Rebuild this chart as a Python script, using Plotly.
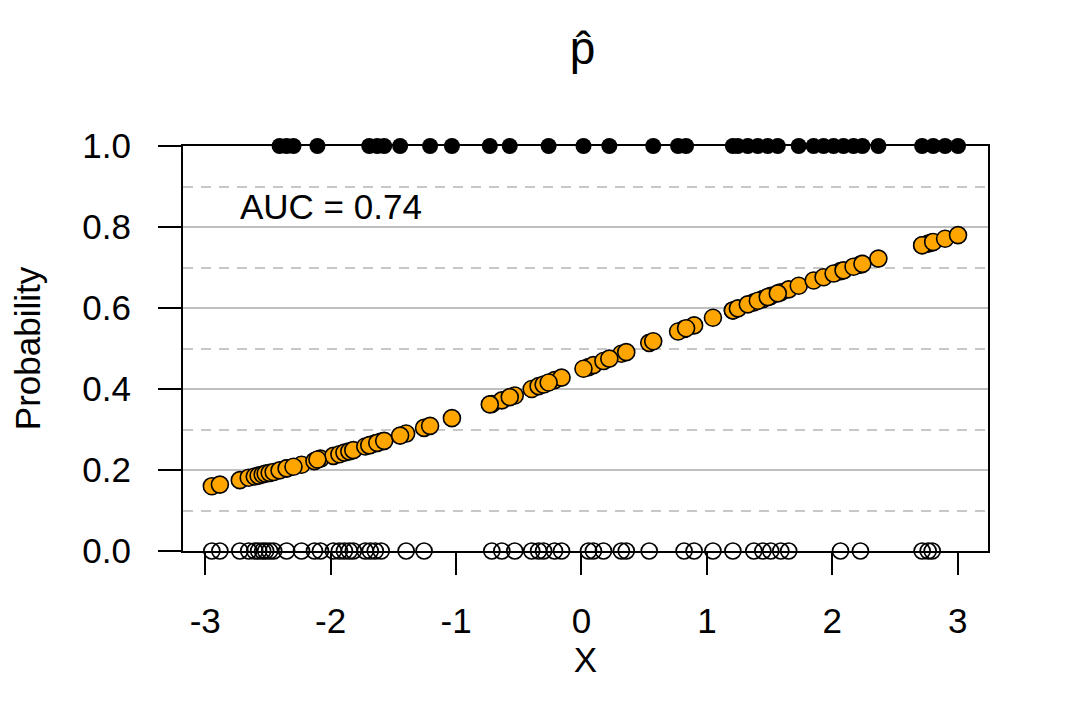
import plotly.graph_objects as go

# observed outcomes: X values where y = 0 (open circles) and y = 1 (filled dots)
x_zero = [-2.947, -2.883, -2.724, -2.653, -2.605, -2.574, -2.542, -2.518, -2.486, -2.454,
          -2.351, -2.232, -2.129, -2.081, -1.978, -1.930, -1.890, -1.851, -1.819, -1.724,
          -1.684, -1.644, -1.597, -1.398, -1.255, -0.715, -0.635, -0.532, -0.397, -0.342,
          -0.302, -0.215, -0.159, 0.056, 0.095, 0.175, 0.318, 0.357, 0.540, 0.818,
          0.898, 1.048, 1.207, 1.374, 1.446, 1.509, 1.589, 1.652, 2.065, 2.224,
          2.716, 2.764, 2.796]
x_one = [-2.407, -2.351, -2.296, -2.105, -1.692, -1.628, -1.573, -1.446, -1.207, -1.033,
         -0.731, -0.572, -0.262, 0.016, 0.222, 0.572, 0.770, 0.834, 1.207, 1.247,
         1.326, 1.406, 1.485, 1.565, 1.732, 1.851, 1.930, 2.010, 2.089, 2.169,
         2.240, 2.367, 2.716, 2.804, 2.899, 3.002]

# fitted probabilities (p-hat)
p_zero = [0.160, 0.164, 0.175, 0.181, 0.184, 0.186, 0.189, 0.191, 0.193, 0.195,
          0.204, 0.213, 0.222, 0.228, 0.235, 0.239, 0.243, 0.246, 0.249, 0.258,
          0.262, 0.266, 0.270, 0.290, 0.304, 0.363, 0.372, 0.384, 0.400, 0.407,
          0.411, 0.422, 0.428, 0.454, 0.459, 0.469, 0.487, 0.491, 0.514, 0.548,
          0.557, 0.576, 0.594, 0.614, 0.622, 0.630, 0.639, 0.646, 0.691, 0.707,
          0.755, 0.759, 0.762]
p_one = [0.199, 0.204, 0.208, 0.226, 0.261, 0.267, 0.272, 0.285, 0.309, 0.328,
         0.362, 0.380, 0.416, 0.450, 0.475, 0.518, 0.542, 0.550, 0.594, 0.599,
         0.609, 0.618, 0.627, 0.636, 0.655, 0.668, 0.676, 0.685, 0.693, 0.702,
         0.709, 0.722, 0.755, 0.763, 0.771, 0.780]

x_ticks = [-3, -2, -1, 0, 1, 2, 3]
x_ticklabels = ["-3", "-2", "-1", "0", "1", "2", "3"]
auc_label = "AUC = 0.74"

font = "Liberation Sans, Arial, sans-serif"

fig = go.Figure()
fig.add_trace(go.Scatter(x=x_zero, y=[0] * len(x_zero), mode="markers", cliponaxis=False,
                         marker=dict(size=16, color="rgba(0,0,0,0)", line=dict(color="black", width=1.7))))
fig.add_trace(go.Scatter(x=x_one, y=[1] * len(x_one), mode="markers", cliponaxis=False,
                         marker=dict(size=16, color="black", line=dict(color="black", width=0))))
fig.add_trace(go.Scatter(x=x_zero + x_one, y=p_zero + p_one, mode="markers", cliponaxis=False,
                         marker=dict(size=17, color="#FFA500", line=dict(color="black", width=1.6))))

fig.add_annotation(x=-2, y=0.85, text=auc_label, showarrow=False, xanchor="center", yanchor="middle",
                   font=dict(size=35, color="black", family=font))

fig.update_layout(
    width=1080, height=720, showlegend=False,
    paper_bgcolor="white", plot_bgcolor="white",
    font=dict(family=font, size=35, color="black"),
    margin=dict(l=172, r=100, t=138, b=177),
    title=dict(text="p\u0302", x=0.532, xanchor="center", y=0.945, yanchor="middle",
               font=dict(size=46, family=font, color="black")),
)
fig.update_xaxes(range=[-3.177, 3.241], tickvals=x_ticks, ticktext=x_ticklabels,
                 showgrid=False, zeroline=False, showline=True, mirror=True,
                 linecolor="black", linewidth=2, ticks="outside", ticklen=22, tickwidth=2,
                 tickcolor="black", ticklabelstandoff=16,
                 title=dict(text="X", standoff=0, font=dict(size=35)))
fig.update_yaxes(range=[0, 1], tickvals=[0, 0.2, 0.4, 0.6, 0.8, 1.0], tickformat=".1f",
                 showgrid=True, gridcolor="#C0C0C0", gridwidth=2, zeroline=False,
                 showline=True, mirror=True, linecolor="black", linewidth=2,
                 ticks="outside", ticklen=23, tickwidth=2, tickcolor="black", ticklabelstandoff=20,
                 minor=dict(dtick=0.1, tick0=0, showgrid=True, gridcolor="#C8C8C8", gridwidth=2,
                            griddash="10px,8px", ticks=""),
                 title=dict(text="Probability", standoff=38, font=dict(size=35)))

fig.write_html("out.html")
